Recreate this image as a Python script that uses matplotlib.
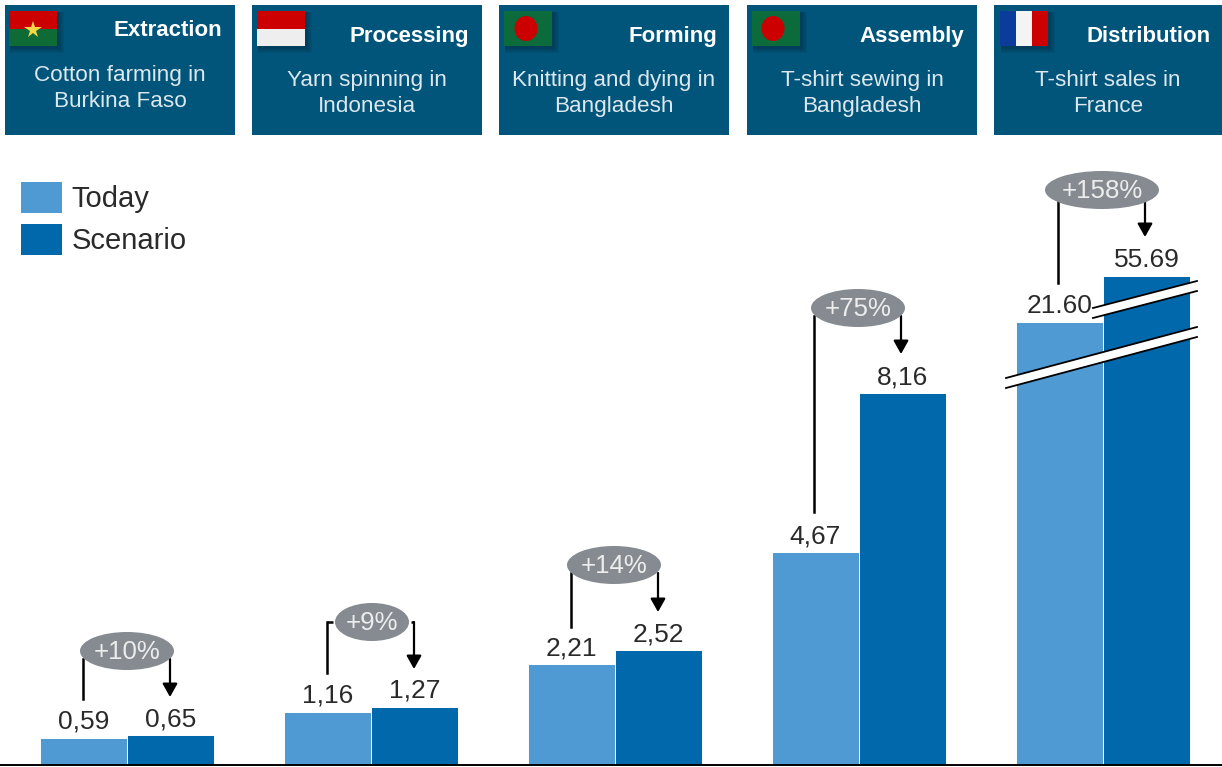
# importing libraries
import numpy as np
import matplotlib
matplotlib.use("Agg")
import matplotlib.pyplot as plt
from matplotlib.patches import Rectangle, Ellipse, Polygon

plt.rcParams['font.family'] = ['Liberation Sans', 'DejaVu Sans']

# chart data
today = [0.59, 1.16, 2.21, 4.67, 21.60]
scenario = [0.65, 1.27, 2.52, 8.16, 55.69]
today_labels = ['0,59', '1,16', '2,21', '4,67', '21.60']
scenario_labels = ['0,65', '1,27', '2,52', '8,16', '55.69']
change_labels = ['+10%', '+9%', '+14%', '+75%', '+158%']
stages = ['Extraction', 'Processing', 'Forming', 'Assembly', 'Distribution']
activities = ['Cotton farming in\nBurkina Faso', 'Yarn spinning in\nIndonesia',
              'Knitting and dying in\nBangladesh', 'T-shirt sewing in\nBangladesh',
              'T-shirt sales in\nFrance']

# broken value axis: linear at the bottom, compressed above the break
value_breaks = [0, 9, 21.6, 55.69, 100]
pixel_breaks = [0, 410, 443, 488.7, 765]


def forward(v):
    return np.interp(v, value_breaks, pixel_breaks)


def inverse(p):
    return np.interp(p, pixel_breaks, value_breaks)


LIGHT = '#4F9AD3'
DARK = '#0169AB'
PANEL = '#02557A'
GREY = '#858B91'
INK = '#2a2a2a'

W, H = 1222, 767
fig = plt.figure(figsize=(W / 100, H / 100), dpi=100)

# bars
ax = fig.add_axes([0, (H - 765) / H, 1, 765 / H])
ax.set_yscale('function', functions=(forward, inverse))
ax.set_ylim(0, 100)
ax.set_xlim(-127 / 244, (W - 127) / 244)
x = np.arange(len(today))
bw = 87 / 244
ax.bar(x - bw / 2, today, bw, color=LIGHT, edgecolor='white', linewidth=0.7)
ax.bar(x + bw / 2, scenario, bw, color=DARK, edgecolor='white', linewidth=0.7)
for s in ['top', 'left', 'right']:
    ax.spines[s].set_visible(False)
ax.spines['bottom'].set_linewidth(1.4)
ax.set_xticks([])
ax.set_yticks([])
ax.minorticks_off()
ax.patch.set_alpha(0)

for i in x:
    ax.annotate(today_labels[i], (i - bw / 2, today[i]), xytext=(0, 3), textcoords='offset points',
                ha='center', va='bottom', fontsize=19, color=INK)
    ax.annotate(scenario_labels[i], (i + bw / 2, scenario[i]), xytext=(0, 3), textcoords='offset points',
                ha='center', va='bottom', fontsize=19, color=INK)

# overlay in pixel coordinates for panels, legend and callouts
ov = fig.add_axes([0, 0, 1, 1])
ov.set_xlim(0, W)
ov.set_ylim(H, 0)
ov.axis('off')
ov.patch.set_alpha(0)

panel_x = [5, 252, 499, 747, 994]
panel_w = [230, 230, 230, 230, 228]
title_y = [30.5, 36.5, 36.5, 36.5, 36.5]
title_right = [222, 469, 717, 964, 1211]
body_y = [88.5, 93.5, 93.5, 93.5, 93.5]
for i in range(5):
    ov.add_patch(Rectangle((panel_x[i], 5), panel_w[i], 130, color=PANEL, lw=0))
    ov.text(title_right[i], title_y[i], stages[i], color='white', fontsize=16, fontweight='bold',
            ha='right', va='center')
    ov.text(panel_x[i] + panel_w[i] / 2, body_y[i], activities[i], color='#DCE8EE', fontsize=16.2,
            ha='center', va='center', linespacing=1.32)


# flags
def flag(x0, bands, flag_w=48, y0=11, flag_h=35, vertical=True):
    for k in range(6, 0, -1):
        ov.add_patch(Rectangle((x0 + 1, y0 + 1), flag_w + k, flag_h + k, color='#012F45', alpha=0.12, lw=0))
    n = len(bands)
    for j, c in enumerate(bands):
        if vertical:
            ov.add_patch(Rectangle((x0 + j * flag_w / n, y0), flag_w / n, flag_h, color=c, lw=0))
        else:
            ov.add_patch(Rectangle((x0, y0 + j * flag_h / n), flag_w, flag_h / n, color=c, lw=0))


flag(9, ['#CC0000', '#0F6B35'], vertical=False)
ov.plot([33], [30], marker='*', ms=13, color='#F5D848', mew=0)
flag(257, ['#CC0000', '#EEEEEE'], vertical=False)
flag(504, ['#0B6B3A'])
ov.add_patch(Ellipse((526, 28.5), 23, 25, color='#CC0000', lw=0))
flag(752, ['#0B6B3A'])
ov.add_patch(Ellipse((773, 28.5), 23, 25, color='#CC0000', lw=0))
flag(1000, ['#0B3C9C', '#F4F4F4', '#CC0000'])

# legend
ov.add_patch(Rectangle((21, 182), 41, 31, color=LIGHT, lw=0))
ov.add_patch(Rectangle((21, 224), 41, 31, color=DARK, lw=0))
ov.text(71, 199, 'Today', fontsize=21, va='center', color=INK)
ov.text(72, 241, 'Scenario', fontsize=21, va='center', color=INK)

# percentage callouts
ell_x = [127, 372, 614, 858, 1102]
ell_y = [651, 622, 565, 308, 190]
ell_w = [94, 74, 94, 94, 114]
left_x = [83, 327, 571, 814, 1058]
left_end = [699, 673, 627, 512, 283]
right_x = [170, 414, 658, 901, 1145]
right_end = [697, 669, 612, 354, 237]
for i in range(5):
    top = ell_y[i] + 8
    if i == 1:
        top = ell_y[i]
        ov.plot([333, left_x[i]], [top, top], color='black', lw=1.8, solid_capstyle='butt')
        ov.plot([411, right_x[i]], [top, top], color='black', lw=1.8, solid_capstyle='butt')
    ov.plot([left_x[i], left_x[i]], [top, left_end[i]], color='black', lw=1.8)
    ov.annotate('', xy=(right_x[i], right_end[i]), xytext=(right_x[i], top),
                arrowprops=dict(arrowstyle='-|>,head_length=0.8,head_width=0.45', color='black', lw=1.6,
                                shrinkA=0, shrinkB=0))
    ov.add_patch(Ellipse((ell_x[i], ell_y[i]), ell_w[i], 38, color=GREY, lw=0, zorder=3))
    ov.text(ell_x[i], ell_y[i] + 1, change_labels[i], color='#EDEDED', fontsize=18.6,
            ha='center', va='center', zorder=4)

# axis break marks on the last group
breaks = [((1093, 308), (1197, 281), (1197, 291), (1093, 318)),
          ((1006, 378), (1197, 327), (1197, 337), (1006, 388))]
for a, b, c, d in breaks:
    ov.add_patch(Polygon([a, b, c, d], closed=True, color='white', lw=0, zorder=5))
    ov.plot([a[0], b[0]], [a[1], b[1]], color='black', lw=1.3, zorder=6)
    ov.plot([d[0], c[0]], [d[1], c[1]], color='black', lw=1.3, zorder=6)

fig.savefig('out.png', dpi=100)
